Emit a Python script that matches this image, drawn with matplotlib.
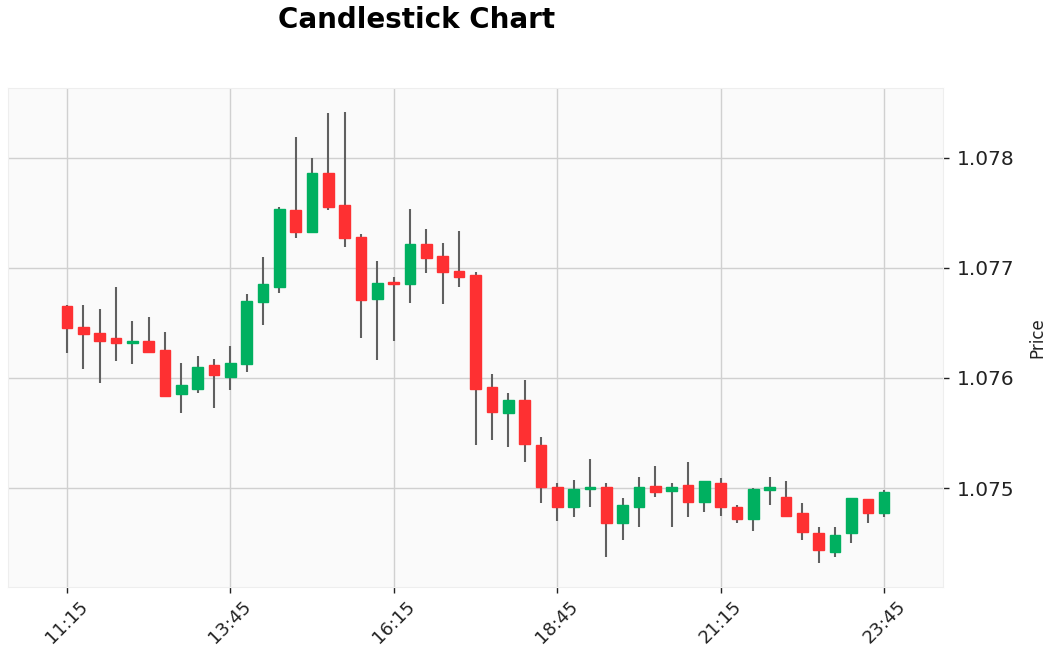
import numpy as np
import matplotlib.pyplot as plt

plt.switch_backend('Agg')

# OHLC values (15-minute candles, 11:15 .. 23:45)
opens = [1.07665, 1.07646, 1.07641, 1.07636, 1.07632, 1.07634, 1.07625, 1.07585, 1.07590, 1.07612,
         1.07601, 1.07613, 1.07669, 1.07683, 1.07753, 1.07733, 1.07786, 1.07757, 1.07728, 1.07672,
         1.07687, 1.07685, 1.07722, 1.07711, 1.07697, 1.07694, 1.07592, 1.07568, 1.07580, 1.07539,
         1.07501, 1.07483, 1.07499, 1.07501, 1.07468, 1.07483, 1.07502, 1.07497, 1.07503, 1.07487,
         1.07505, 1.07483, 1.07472, 1.07498, 1.07492, 1.07477, 1.07459, 1.07442, 1.07459, 1.07490,
         1.07477]
highs = [1.07666, 1.07666, 1.07663, 1.07683, 1.07652, 1.07655, 1.07642, 1.07614, 1.07620, 1.07617,
         1.07629, 1.07676, 1.07710, 1.07755, 1.07819, 1.07800, 1.07841, 1.07842, 1.07731, 1.07706,
         1.07692, 1.07754, 1.07735, 1.07723, 1.07734, 1.07696, 1.07604, 1.07586, 1.07598, 1.07546,
         1.07505, 1.07507, 1.07526, 1.07505, 1.07491, 1.07510, 1.07520, 1.07505, 1.07524, 1.07506,
         1.07509, 1.07485, 1.07500, 1.07510, 1.07506, 1.07486, 1.07465, 1.07465, 1.07491, 1.07490,
         1.07498]
lows = [1.07623, 1.07608, 1.07595, 1.07615, 1.07613, 1.07623, 1.07583, 1.07568, 1.07586, 1.07573,
        1.07589, 1.07605, 1.07648, 1.07677, 1.07727, 1.07733, 1.07753, 1.07719, 1.07636, 1.07616,
        1.07634, 1.07668, 1.07695, 1.07667, 1.07683, 1.07539, 1.07544, 1.07537, 1.07524, 1.07486,
        1.07470, 1.07474, 1.07483, 1.07437, 1.07453, 1.07465, 1.07492, 1.07465, 1.07474, 1.07478,
        1.07475, 1.07468, 1.07461, 1.07485, 1.07475, 1.07453, 1.07432, 1.07437, 1.07450, 1.07468,
        1.07474]
closes = [1.07645, 1.07640, 1.07634, 1.07632, 1.07634, 1.07624, 1.07584, 1.07594, 1.07610, 1.07603,
          1.07614, 1.07670, 1.07685, 1.07754, 1.07733, 1.07786, 1.07755, 1.07727, 1.07671, 1.07686,
          1.07685, 1.07722, 1.07709, 1.07696, 1.07692, 1.07590, 1.07569, 1.07580, 1.07540, 1.07501,
          1.07483, 1.07499, 1.07501, 1.07468, 1.07485, 1.07501, 1.07496, 1.07501, 1.07487, 1.07506,
          1.07483, 1.07472, 1.07499, 1.07501, 1.07475, 1.07460, 1.07444, 1.07457, 1.07491, 1.07477,
          1.07496]

tick_labels = ["11:15", "13:45", "16:15", "18:45", "21:15", "23:45"]
ytick_values = [1.075, 1.076, 1.077, 1.078]

up_color = '#00b060'
down_color = '#fe3032'
wick_color = '#606060'

o = np.array(opens)
h = np.array(highs)
l = np.array(lows)
c = np.array(closes)
x = np.arange(len(o))
colors = np.where(c >= o, up_color, down_color)

fig = plt.figure(figsize=(10.52, 6.47), dpi=100)
ax = fig.add_axes([0.0076, 0.0927, 0.8888, 0.7713])
ax.set_facecolor('#fafafa')

# wicks then bodies
ax.vlines(x, l, h, color=wick_color, linewidth=1.5, zorder=2)
body_bottom = np.minimum(o, c)
body_height = np.abs(c - o)
ax.bar(x, body_height, width=0.65, bottom=body_bottom, color=colors,
       edgecolor=colors, linewidth=1.0, zorder=3)

ax.set_xlim(-3.6, 53.6)
ax.set_ylim(1.0741, 1.078636)

tick_pos = np.arange(len(tick_labels)) * 10
ax.set_xticks(tick_pos)
ax.set_xticklabels(tick_labels, rotation=45, ha='center', fontsize=13, color='#222222')

ax.yaxis.tick_right()
ax.yaxis.set_label_position('right')
ax.set_yticks(ytick_values)
ax.set_yticklabels([f"{v:.3f}" for v in ytick_values], fontsize=14.5, color='#222222')
ax.set_ylabel('Price', fontsize=12, color='#222222', labelpad=10)

ax.tick_params(axis='both', length=4, width=1, color='#222222')
ax.tick_params(axis='y', pad=6)

ax.grid(True, color='#d0d0d0', linewidth=1.0, linestyle='-', zorder=0)
ax.set_axisbelow(True)
for s in ax.spines.values():
    s.set_color('#eeeeee')

fig.text(0.396, 0.99, 'Candlestick Chart', ha='center', va='top',
         fontsize=20, fontweight='bold')

plt.savefig('out.png', dpi=100)
plt.close()
